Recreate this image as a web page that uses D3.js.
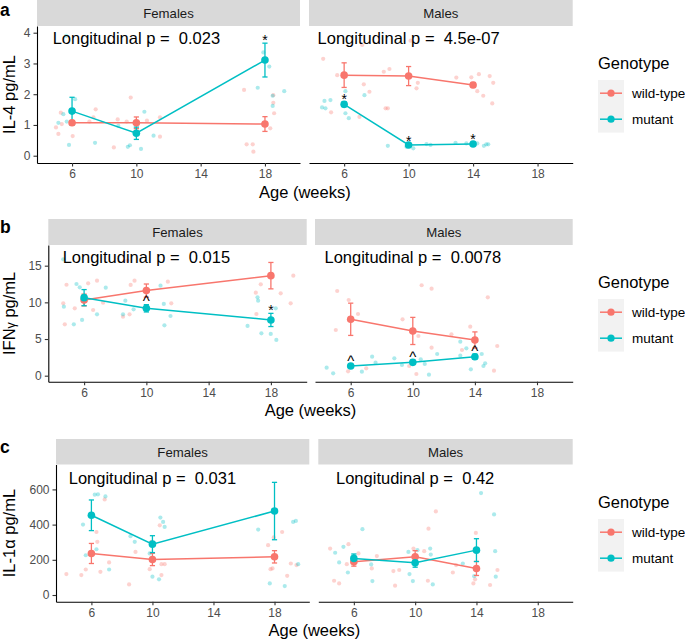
<!DOCTYPE html>
<html><head><meta charset="utf-8">
<script src="https://cdn.jsdelivr.net/npm/d3@7"></script>
<style>body{margin:0;background:#fff}svg{display:block}text{font-family:"Liberation Sans",Arial,Helvetica,sans-serif;white-space:pre}</style>
</head><body><svg id="chart" width="685" height="642"></svg>
<script>
// ---------- data ----------
const genotypes = ["wild-type", "mutant"];
const sexes = ["Females", "Males"];
const weeksF = [6, 10, 18];
const weeksM = [6, 10, 14];
const xTicks = [6, 10, 14, 18];

// IL-4
const IL4_TICKS = [0, 1, 2, 3, 4];
const IL4_F_WT = [1.07, 1.07, 1.03], IL4_F_WT_SE = [0.06, 0.19, 0.24];
const IL4_F_MUT = [1.45, 0.73, 3.11], IL4_F_MUT_SE = [0.45, 0.2, 0.55];
const IL4_M_WT = [2.62, 2.59, 2.30], IL4_M_WT_SE = [0.40, 0.31, 0.08];
const IL4_M_MUT = [1.67, 0.35, 0.38], IL4_M_MUT_SE = [0.08, 0.04, 0.05];
const IL4_F_SIG = ["", "", "*"], IL4_M_SIG = ["*", "*", "*"];
const IL4_P = ["Longitudinal p =  0.023", "Longitudinal p =  4.5e-07"];
const IL4_P_Y = 3.63;
const IL4_F_WT_RAW = [[5.0,0.92],[5.15,0.71],[5.3,1.40],[5.36,1.03],[6.04,0.64],[7.47,1.51],[7.33,1.25],[7.08,1.11],[8.6,0.27],[8.84,1.18],[9.4,1.11],[9.65,1.89],[10.66,1.14],[11.47,1.25],[11.47,0.62],[16.7,2.14],[16.86,0.37],[17.24,0.37],[17.28,0.13],[18.52,1.97],[18.52,1.72],[18.57,1.38],[18.33,0.89]];
const IL4_F_MUT_RAW = [[5.15,1.07],[5.46,1.35],[5.67,1.11],[5.81,0.35],[6.19,1.84],[5.64,3.9],[7.43,0.42],[8.88,0.97],[9.47,0.29],[9.6,0.34],[10.29,0.22],[10.5,1.43],[11.07,0.65],[17.55,2.21],[17.9,3.36],[18.27,2.9],[18.48,1.95],[18.48,1.62],[19.2,2.1]];
const IL4_M_WT_RAW = [[4.7,3.15],[5.57,2.62],[5.19,1.41],[7.12,3.6],[7.22,2.32],[7.57,2.08],[6.95,1.26],[8.46,2.73],[8.81,2.82],[8.57,1.54],[8.71,1.54],[10.12,3.74],[10.57,2.37],[10.49,2.19],[12.96,2.54],[13.89,2.55],[14.36,2.65],[14.26,2.1],[14.63,1.95],[15.03,2.59],[15.25,2.37],[15.19,1.7]];
const IL4_M_MUT_RAW = [[4.63,1.57],[4.84,1.54],[4.78,1.78],[5.15,1.81],[6.08,2.1],[6.08,1.38],[6.29,1.22],[7.26,1.97],[8.71,0.32],[9.87,0.29],[10.29,0.24],[11.11,0.38],[11.36,0.35],[12.91,0.42],[13.58,0.4],[14.26,0.4],[14.67,0.32],[14.82,0.37],[14.94,0.37]];

// IFN-gamma
const IFN_TICKS = [0, 5, 10, 15];
const IFN_F_WT = [10.32, 11.6, 13.64], IFN_F_WT_SE = [0.8, 0.9, 1.8];
const IFN_F_MUT = [10.64, 9.19, 7.6], IFN_F_MUT_SE = [1.1, 0.5, 0.9];
const IFN_M_WT = [7.69, 6.1, 4.87], IFN_M_WT_SE = [2.2, 1.85, 1.1];
const IFN_M_MUT = [1.32, 1.82, 2.59], IFN_M_MUT_SE = [0.2, 0.3, 0.35];
const IFN_F_SIG = ["", "^", "*"], IFN_M_SIG = ["^", "^", "^"];
const IFN_P = ["Longitudinal p =  0.015", "Longitudinal p =  0.0078"];
const IFN_P_Y = 15.3;
const IFN_F_WT_RAW = [[4.66,9.87],[4.76,7.0],[4.87,12.4],[5.4,9.19],[6.26,12.6],[6.58,8.96],[6.83,12.96],[7.22,9.96],[8.5,8.05],[8.78,15.68],[8.99,12.37],[9.24,12.96],[8.92,8.37],[11.38,12.82],[11.6,9.87],[17.03,11.32],[17.35,12.46],[17.07,8.41],[18.63,11.23],[19.27,9.87],[19.44,13.64]];
const IFN_F_MUT_RAW = [[4.66,15.87],[4.7,9.41],[5.34,7.0],[5.51,12.5],[5.72,12.05],[5.87,7.6],[6.83,8.37],[7.39,12.0],[8.5,8.37],[8.65,10.23],[9.18,9.05],[10.91,12.27],[11.12,9.78],[11.16,6.87],[11.55,8.14],[16.5,6.78],[17.14,10.69],[17.18,10.23],[17.39,5.78],[17.99,5.69],[18.31,9.19],[18.35,4.87]];
const IFN_M_WT_RAW = [[5.13,11.55],[5.87,10.32],[5.04,6.23],[6.47,8.41],[5.83,0.6],[7.0,1.0],[9.34,7.69],[10.57,12.33],[11.21,11.87],[10.36,5.41],[11.21,3.82],[10.23,0.23],[9.77,1.32],[12.49,5.64],[13.7,6.68],[13.17,3.5],[14.83,10.69],[15.44,4.05],[15.23,0.68]];
const IFN_M_MUT_RAW = [[4.45,1.09],[4.87,0.32],[6.72,0.55],[7.38,2.59],[7.6,1.77],[8.81,2.37],[9.3,1.46],[10.51,2.23],[10.77,1.6],[11.04,0.14],[11.57,2.96],[13.06,4.64],[13.45,3.73],[13.06,2.73],[13.74,0.87],[14.44,2.96],[14.55,1.32],[14.66,1.69]];

// IL-1 alpha
const IL1_TICKS = [0, 200, 400, 600];
const IL1_F_WT = [236, 202, 217], IL1_F_WT_SE = [57, 35, 35];
const IL1_F_MUT = [453, 289, 477], IL1_F_MUT_SE = [87, 48, 163];
const IL1_M_WT = [189, 217, 151], IL1_M_WT_SE = [25, 35, 40];
const IL1_M_MUT = [208, 183, 255], IL1_M_MUT_SE = [25, 25, 65];
const IL1_F_SIG = ["", "", ""], IL1_M_SIG = ["", "", ""];
const IL1_P = ["Longitudinal p =  0.031", "Longitudinal p =  0.42"];
const IL1_P_Y = 632;
const IL1_F_WT_RAW = [[4.36,119],[5.34,113],[5.63,145],[6.33,358],[6.39,302],[6.59,132],[6.87,543],[7.16,185],[8.47,60],[8.89,245],[9.93,302],[9.82,147],[10.48,396],[10.59,175],[10.8,175],[10.59,113],[17.58,283],[17.74,147],[17.87,151],[17.95,327],[18.5,358],[18.83,109],[19.07,179],[19.44,170]];
const IL1_F_MUT_RAW = [[5.45,400],[5.63,226],[6.22,570],[6.43,572],[6.33,260],[6.92,560],[7.16,145],[8.56,334],[8.84,302],[9.82,236],[9.93,296],[10.52,440],[10.7,415],[10.8,387],[10.0,104],[10.43,89],[16.93,372],[17.69,66],[18.67,51],[19.22,415],[19.4,421],[19.55,175]];
const IL1_M_WT_RAW = [[4.45,264],[4.71,81],[5.04,66],[5.54,175],[5.65,289],[6.3,236],[7.17,151],[7.5,221],[8.58,136],[8.69,53],[8.96,142],[9.89,264],[10.59,249],[10.83,81],[10.87,377],[11.35,475],[12.46,128],[12.67,170],[13.96,353],[13.8,66],[13.91,89],[14.89,57],[15.37,142]];
const IL1_M_MUT_RAW = [[4.78,240],[5.04,185],[5.32,274],[5.61,128],[6.56,374],[7.13,174],[7.21,79],[9.56,245],[9.63,119],[9.85,79],[10.15,255],[10.98,264],[11.02,230],[11.15,60],[13.11,179],[13.85,107],[14.3,579],[15.15,458],[15.22,249],[15.26,104]];

// ---------- layout ----------
const colors = ["#F8766D", "#00BFC4"];
const FONT = '"Liberation Sans", Arial, Helvetica, sans-serif';
const rows = [
  { letter: "a", letterY: 15.5, stripTop: 0, pTop: 26, pBot: 163, xr: [[37, 300], [309, 572.7]],
    xDom: [3.82, 20.18], yDom: [-0.237, 4.218], yTicks: IL4_TICKS, yTitle: ["IL-4 pg/mL"],
    legTop: 80, pLabels: IL4_P, pY: IL4_P_Y,
    data: [[ [IL4_F_WT, IL4_F_WT_SE, IL4_F_WT_RAW], [IL4_F_MUT, IL4_F_MUT_SE, IL4_F_MUT_RAW, IL4_F_SIG] ],
           [ [IL4_M_WT, IL4_M_WT_SE, IL4_M_WT_RAW], [IL4_M_MUT, IL4_M_MUT_SE, IL4_M_MUT_RAW, IL4_M_SIG] ]] },
  { letter: "b", letterY: 233, stripTop: 219, pTop: 245, pBot: 381.7, xr: [[48.3, 306.7], [315, 572.7]],
    xDom: [3.7, 20.3], yDom: [-0.82, 17.82], yTicks: IFN_TICKS, yTitle: ["IFN", "γ", " pg/mL"],
    legTop: 299, pLabels: IFN_P, pY: IFN_P_Y,
    data: [[ [IFN_F_WT, IFN_F_WT_SE, IFN_F_WT_RAW], [IFN_F_MUT, IFN_F_MUT_SE, IFN_F_MUT_RAW, IFN_F_SIG] ],
           [ [IFN_M_WT, IFN_M_WT_SE, IFN_M_WT_RAW], [IFN_M_MUT, IFN_M_MUT_SE, IFN_M_MUT_RAW, IFN_M_SIG] ]] },
  { letter: "c", letterY: 453, stripTop: 439, pTop: 464.5, pBot: 601.7, xr: [[56, 309.3], [318.3, 572.7]],
    xDom: [3.68, 20.28], yDom: [-38, 741.5], yTicks: IL1_TICKS, yTitle: ["IL-1α pg/mL"],
    legTop: 519, pLabels: IL1_P, pY: IL1_P_Y,
    data: [[ [IL1_F_WT, IL1_F_WT_SE, IL1_F_WT_RAW], [IL1_F_MUT, IL1_F_MUT_SE, IL1_F_MUT_RAW, IL1_F_SIG] ],
           [ [IL1_M_WT, IL1_M_WT_SE, IL1_M_WT_RAW], [IL1_M_MUT, IL1_M_MUT_SE, IL1_M_MUT_RAW, IL1_M_SIG] ]] }
];

const svg = d3.select("#chart");
svg.append("rect").attr("width", 685).attr("height", 642).attr("fill", "#fff");

rows.forEach(row => {
  const g = svg.append("g");
  const y = d3.scaleLinear().domain(row.yDom).range([row.pBot, row.pTop]);

  // panel letter
  g.append("text").attr("x", 0).attr("y", row.letterY).text(row.letter)
    .attr("font-size", 17.5).attr("font-weight", "bold").attr("fill", "#000");

  // y title
  const cy = (row.pTop + row.pBot) / 2;
  const yt = g.append("text").attr("transform", `translate(15,${cy}) rotate(-90)`)
    .attr("text-anchor", "middle").attr("font-size", 16.5).attr("fill", "#000");
  row.yTitle.forEach((t, i) => {
    const ts = yt.append("tspan").text(t);
    if (row.yTitle.length > 1 && i === 1) ts.attr("font-size", 12.5);
  });

  // x title
  const xl = row.xr[0][0], xrgt = row.xr[1][1];
  g.append("text").attr("x", (xl + xrgt) / 2).attr("y", row.pBot + 34.5)
    .attr("text-anchor", "middle").attr("font-size", 16.5).attr("fill", "#000").text("Age (weeks)");

  sexes.forEach((sex, si) => {
    const [x0, x1] = row.xr[si];
    const x = d3.scaleLinear().domain(row.xDom).range([x0, x1]);
    const weeks = si === 0 ? weeksF : weeksM;
    const pg = g.append("g");

    // strip
    pg.append("rect").attr("x", x0).attr("y", row.stripTop).attr("width", x1 - x0)
      .attr("height", row.pTop - row.stripTop).attr("fill", "#D9D9D9");
    pg.append("text").attr("x", (x0 + x1) / 2).attr("y", (row.stripTop + row.pTop) / 2)
      .attr("dy", "0.36em").attr("text-anchor", "middle").attr("font-size", 13.2)
      .attr("fill", "#1A1A1A").text(sex);

    // x axis
    const xa = pg.append("g").attr("transform", `translate(0,${row.pBot})`)
      .call(d3.axisBottom(x).tickValues(xTicks).tickFormat(d3.format("d"))
        .tickSize(3.5).tickPadding(3).tickSizeOuter(0));
    xa.select(".domain").attr("stroke", "#000").attr("stroke-width", 1.1);
    xa.selectAll(".tick line").attr("stroke", "#333").attr("stroke-width", 1.1);
    xa.selectAll(".tick text").attr("fill", "#4D4D4D").attr("font-size", 12).attr("font-family", FONT);

    // y axis only on left panel
    if (si === 0) {
      const ya = pg.append("g").attr("transform", `translate(${x0},0)`)
        .call(d3.axisLeft(y).tickValues(row.yTicks).tickFormat(d3.format("d"))
          .tickSize(3.5).tickPadding(3).tickSizeOuter(0));
      ya.select(".domain").attr("stroke", "#000").attr("stroke-width", 1.1);
      ya.selectAll(".tick line").attr("stroke", "#333").attr("stroke-width", 1.1);
      ya.selectAll(".tick text").attr("fill", "#4D4D4D").attr("font-size", 12).attr("font-family", FONT);
    }

    const series = row.data[si];
    // raw points
    series.forEach((s, gi) => {
      pg.append("g").selectAll("circle").data(s[2]).join("circle")
        .attr("cx", d => x(d[0])).attr("cy", d => y(d[1])).attr("r", 2.1)
        .attr("fill", colors[gi]).attr("fill-opacity", 0.33);
    });
    // lines
    series.forEach((s, gi) => {
      const line = d3.line().x((d, i) => x(weeks[i])).y(d => y(d));
      pg.append("path").attr("d", line(s[0])).attr("fill", "none")
        .attr("stroke", colors[gi]).attr("stroke-width", 1.5);
    });
    // error bars
    series.forEach((s, gi) => {
      const eb = pg.append("g").attr("stroke", colors[gi]).attr("stroke-width", 1.3);
      s[0].forEach((m, i) => {
        const cx = x(weeks[i]), lo = y(m - s[1][i]), hi = y(m + s[1][i]);
        eb.append("line").attr("x1", cx).attr("x2", cx).attr("y1", lo).attr("y2", hi);
        eb.append("line").attr("x1", cx - 2.6).attr("x2", cx + 2.6).attr("y1", lo).attr("y2", lo);
        eb.append("line").attr("x1", cx - 2.6).attr("x2", cx + 2.6).attr("y1", hi).attr("y2", hi);
      });
    });
    // mean points
    series.forEach((s, gi) => {
      pg.append("g").selectAll("circle").data(s[0]).join("circle")
        .attr("cx", (d, i) => x(weeks[i])).attr("cy", d => y(d)).attr("r", 3.8)
        .attr("fill", colors[gi]);
    });
    // significance marks (mutant)
    const mut = series[1];
    mut[3].forEach((lab, i) => {
      if (!lab) return;
      pg.append("text").attr("x", x(weeks[i])).attr("y", y(mut[0][i] + mut[1][i]) + (lab === "*" ? 2 : 1.5))
        .attr("text-anchor", "middle").attr("font-size", lab === "*" ? 14 : 15).attr("fill", "#000").text(lab);
    });
    // p label
    pg.append("text").attr("x", x(10)).attr("y", y(row.pY)).attr("text-anchor", "middle")
      .attr("font-size", 16.5).attr("fill", "#000").text(row.pLabels[si]);
  });

  // legend
  const lg = g.append("g");
  lg.append("text").attr("x", 598).attr("y", row.legTop - 11).attr("font-size", 16.5)
    .attr("fill", "#000").text("Genotype");
  lg.append("rect").attr("x", 598).attr("y", row.legTop).attr("width", 26).attr("height", 52.6)
    .attr("fill", "#F2F2F2");
  genotypes.forEach((gn, gi) => {
    const cyk = row.legTop + 13.2 + gi * 26;
    lg.append("line").attr("x1", 600).attr("x2", 622).attr("y1", cyk).attr("y2", cyk)
      .attr("stroke", colors[gi]).attr("stroke-width", 1.5);
    lg.append("circle").attr("cx", 611).attr("cy", cyk).attr("r", 3.6).attr("fill", colors[gi]);
    lg.append("text").attr("x", 632).attr("y", cyk).attr("dy", "0.36em").attr("font-size", 13.5)
      .attr("fill", "#000").text(gn);
  });
});
</script>
</body></html>
